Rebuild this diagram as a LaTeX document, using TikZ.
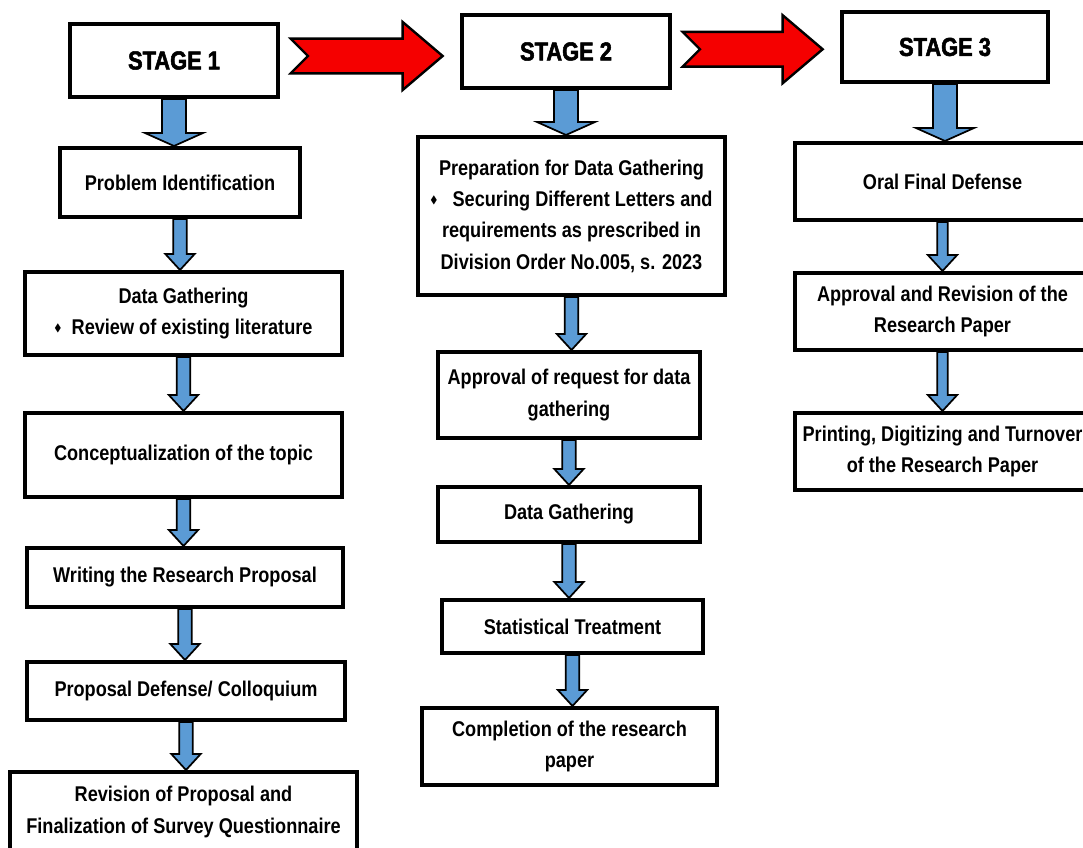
\documentclass[tikz,border=0pt]{standalone}
\usepackage{fontspec}
\usepackage{amssymb}
\setmainfont{Liberation Sans}[FakeStretch=0.85]
\newfontfamily\stagefont{Liberation Sans}[FakeStretch=0.84, FakeBold=2]
\usetikzlibrary{calc}
\definecolor{arrowblue}{RGB}{91,155,213}
\definecolor{arrowred}{RGB}{245,0,0}
\newcommand{\bul}{\raisebox{0.3ex}{\fontsize{8}{8}\selectfont$\blacklozenge$}}
% blue down arrow: from, to, half shaft, half head, head length
\newcommand{\flowdown}[5]{%
	\draw[bluearrow] let \p1=(#1.south), \p2=(#2.north) in
	(\x1-#3,\y1) -- (\x1+#3,\y1) -- (\x1+#3,\y2+#5) -- (\x1+#4,\y2+#5)
	-- (\x1,\y2) -- (\x1-#4,\y2+#5) -- (\x1-#3,\y2+#5) -- cycle;}
% red notched arrow between two stages
\newcommand{\stagearrow}[2]{%
	\draw[redarrow] let \p1=(#1.east), \p2=(#2.west), \p3=($(#1.east)!0.5!(#2.west)$) in
	(\x1+8pt,\y3+13pt) -- (\x2-43pt,\y3+13pt) -- (\x2-43pt,\y3+25.5pt) -- (\x2-13pt,\y3)
	-- (\x2-43pt,\y3-25.5pt) -- (\x2-43pt,\y3-13pt) -- (\x1+8pt,\y3-13pt) -- (\x1+21pt,\y3) -- cycle;}
\begin{document}
\begin{tikzpicture}[
		x = 0.75pt, y = -0.75pt,
		box/.style       = {draw, line width=3pt, fill=white, align=center, inner sep=2pt,
			font=\bfseries\fontsize{16}{23.5}\selectfont},
		stagebox/.style  = {box, font=\stagefont\bfseries\fontsize{19.5}{22}\selectfont},
		bluearrow/.style = {fill=arrowblue, draw=black, line width=1.3pt, line join=miter},
		redarrow/.style  = {fill=arrowred, draw=black, line width=1.8pt, line join=miter}
		]
		\useasboundingbox (0,0) rectangle (1083,848);
		
		% stages
		\node[stagebox, minimum width=156pt, minimum height=54.75pt]   (s1) at (174,60.5) {STAGE 1};
		\node[stagebox, minimum width=156pt, minimum height=54.75pt]   (s2) at (566,51.5) {STAGE 2};
		\node[stagebox, minimum width=154.5pt, minimum height=52.5pt]  (s3) at (945,47)   {STAGE 3};
		
		% stage 1
		\node[box, minimum width=180pt, minimum height=51.75pt]    (p1) at (180,182.5) {Problem Identification};
		\node[box, minimum width=237.75pt, minimum height=62.25pt] (d1) at (183.5,313.5) {Data Gathering\\ \bul\ \ Review of existing literature};
		\node[box, minimum width=237.75pt, minimum height=63pt]    (c1) at (183.5,455) {Conceptualization of the topic};
		\node[box, minimum width=237pt, minimum height=44.25pt]    (w1) at (185,577.5) {Writing the Research Proposal};
		\node[box, minimum width=238.5pt, minimum height=43.5pt]   (pd) at (186,691) {Proposal Defense/ Colloquium};
		\node[box, minimum width=260.25pt, minimum height=60pt]    (rv) at (183.5,812) {Revision of Proposal and\\ Finalization of Survey Questionnaire};
		
		% stage 2
		\node[box, minimum width=230.25pt, minimum height=118.5pt] (pr) at (571.5,216) {Preparation for Data Gathering\\ \bul\ \ \ Securing Different Letters and\\ requirements as prescribed in\\ Division Order No.005, s. 2023};
		\node[box, minimum width=196.5pt, minimum height=64.5pt]   (ap) at (569,395) {Approval of request for data\\ gathering};
		\node[box, minimum width=196.5pt, minimum height=41.25pt]  (dg) at (569,514.5) {Data Gathering};
		\node[box, minimum width=195.75pt, minimum height=39.75pt] (st) at (572.5,626.5) {Statistical Treatment};
		\node[box, minimum width=221.25pt, minimum height=57.75pt] (cp) at (569.5,746.5) {Completion of the research\\ paper};
		
		% stage 3
		\node[box, minimum width=221.25pt, minimum height=57.75pt] (of) at (942.5,181.5) {Oral Final Defense};
		\node[box, minimum width=221.25pt, minimum height=57.75pt] (ar) at (942.5,311.5) {Approval and Revision of the\\ Research Paper};
		\node[box, minimum width=221.25pt, minimum height=57.75pt] (pt) at (942.5,451.5) {Printing, Digitizing and Turnover\\ of the Research Paper};
		
		\stagearrow{s1}{s2}
		\stagearrow{s2}{s3}
		
		\flowdown{s1}{p1}{9pt}{21.75pt}{9.75pt}
		\flowdown{s2}{pr}{9pt}{21.75pt}{9.75pt}
		\flowdown{s3}{of}{9pt}{21.75pt}{9.75pt}
		
		\flowdown{p1}{d1}{5pt}{11pt}{12pt}
		\flowdown{d1}{c1}{5pt}{11pt}{12pt}
		\flowdown{c1}{w1}{5pt}{11pt}{12pt}
		\flowdown{w1}{pd}{5pt}{11pt}{12pt}
		\flowdown{pd}{rv}{5pt}{11pt}{12pt}
		
		\flowdown{pr}{ap}{5pt}{11pt}{12pt}
		\flowdown{ap}{dg}{5pt}{11pt}{12pt}
		\flowdown{dg}{st}{5pt}{11pt}{12pt}
		\flowdown{st}{cp}{5pt}{11pt}{12pt}
		
		\flowdown{of}{ar}{4pt}{11pt}{12pt}
		\flowdown{ar}{pt}{4pt}{11pt}{12pt}
	\end{tikzpicture}
\end{document}
